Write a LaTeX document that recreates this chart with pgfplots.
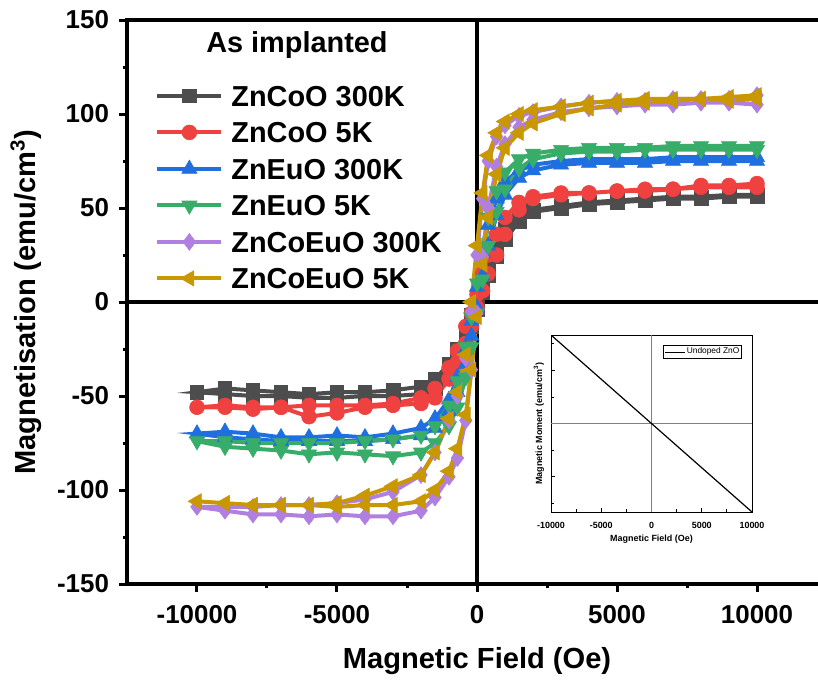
\documentclass[border=0pt]{standalone}
\usepackage{fontspec}
\setmainfont{Liberation Sans}
\usepackage{pgfplots}
\pgfplotsset{compat=1.18}
\definecolor{cgrey}{HTML}{4D4D4D}
\definecolor{cred}{HTML}{F04141}
\definecolor{cblue}{HTML}{1F6FE0}
\definecolor{cgreen}{HTML}{38AD69}
\definecolor{cpurple}{HTML}{B07FE0}
\definecolor{cgold}{HTML}{C99700}

\begin{document}
\begin{tikzpicture}
\begin{axis}[
  name=main,
  scale only axis, width=350bp, height=282bp,
  xmin=-12500, xmax=12500, ymin=-150, ymax=150,
  xtick={-10000,-5000,0,5000,10000}, minor x tick num=1,
  ytick={-150,-100,...,150}, minor y tick num=1,
  tick pos=left, tick align=outside,
  major tick length=4bp, minor tick length=2.2bp,
  every tick/.style={black, line width=1.5bp},
  axis line style={line width=1.8bp},
  scaled x ticks=false,
  /pgf/number format/assume math mode=true,
  /pgf/number format/1000 sep={},
  tick label style={font=\fontsize{13}{15}\selectfont\bfseries},
  xticklabel style={yshift=-3bp},
  yticklabel style={xshift=-1.5bp},
  xlabel={Magnetic Field (Oe)},
  ylabel={Magnetisation (emu/cm\textsuperscript{3})},
  label style={font=\fontsize{14.6}{17}\selectfont\bfseries},
  xlabel style={at={(axis description cs:0.5,0)}, anchor=base, yshift=-42bp},
  ylabel style={at={(axis description cs:-0.1314,0.5)}, anchor=base},
  legend style={draw=none, fill=none, inner sep=0pt,
    at={(axis description cs:0,1)}, anchor=north west,
    xshift=14bp, yshift=-32.5bp,
    font=\fontsize{14.5}{17}\selectfont\bfseries, row sep=7.75bp,
    nodes={inner sep=0pt, text height=10.5bp, text depth=0pt}},
  legend cell align=left,
  legend image code/.code={
    \draw[mark repeat=2,mark phase=2] plot coordinates {(0bp,0bp)(16bp,0bp)(32bp,0bp)};
    \path (36bp,0bp);},
  every axis plot/.append style={line width=2bp},
]
\draw[line width=1.8bp] (axis cs:0,-150) -- (axis cs:0,150);
\draw[line width=1.8bp] (axis cs:-12500,0) -- (axis cs:12500,0);

% ZnCoO 300K
\addplot[color=cgrey, mark=square*, mark size=3.4bp, mark options={solid, line width=0.3bp}]
  coordinates {(10000,57)(9000,57)(8000,56)(7000,56)(6000,55)(5000,54)(4000,53)(3000,51)
  (2000,49)(1500,46)(1000,39)(700,31)(400,21)(200,12)(0,3)(-200,-7)(-400,-15)(-700,-25)
  (-1000,-33)(-1500,-41)(-2000,-45)(-3000,-47)(-4000,-48)(-5000,-48)(-6000,-49)(-7000,-48)
  (-8000,-47)(-9000,-46)(-10000,-48)
  (-9000,-49)(-8000,-50)(-7000,-50)(-6000,-51)(-5000,-51)(-4000,-50)(-3000,-50)(-2000,-49)
  (-1500,-46)(-1000,-39)(-700,-31)(-400,-22)(-200,-13)(0,-4)(200,5)(400,14)(700,24)
  (1000,33)(1500,43)(2000,48)(3000,50)(4000,52)(5000,53)(6000,54)(7000,55)(8000,55)
  (9000,56)(10000,56)};
% ZnCoO 5K
\addplot[color=cred, mark=*, mark size=3.7bp, mark options={solid, line width=0.3bp}]
  coordinates {(10000,63)(9000,62)(8000,62)(7000,60)(6000,60)(5000,59)(4000,58)(3000,58)
  (2000,56)(1500,53)(1000,45)(700,36)(400,25)(200,15)(0,4)(-200,-6)(-400,-13)(-700,-26)
  (-1000,-35)(-1500,-46)(-2000,-51)(-3000,-54)(-4000,-55)(-5000,-55)(-6000,-55)(-7000,-56)
  (-8000,-56)(-9000,-55)(-10000,-56)
  (-9000,-56)(-8000,-57)(-7000,-56)(-6000,-61)(-5000,-59)(-4000,-56)(-3000,-55)(-2000,-54)
  (-1500,-51)(-1000,-41)(-700,-32)(-400,-22)(-200,-13)(0,-3)(200,6)(400,15)(700,25)
  (1000,36)(1500,49)(2000,55)(3000,57)(4000,58)(5000,59)(6000,59)(7000,60)(8000,61)
  (9000,61)(10000,61)};
% ZnEuO 300K
\addplot[color=cblue, mark=triangle*, mark size=4.4bp, mark options={solid, line width=0.3bp}]
  coordinates {(10000,77)(9000,77)(8000,77)(7000,77)(6000,76)(5000,76)(4000,76)(3000,75)
  (2000,73)(1500,70)(1000,64)(700,55)(400,41)(200,26)(0,8)(-200,-10)(-400,-25)(-700,-40)
  (-1000,-52)(-1500,-62)(-2000,-67)(-3000,-70)(-4000,-72)(-5000,-71)(-6000,-72)(-7000,-72)
  (-8000,-70)(-9000,-69)(-10000,-70)
  (-9000,-72)(-8000,-73)(-7000,-74)(-6000,-74)(-5000,-74)(-4000,-74)(-3000,-73)(-2000,-71)
  (-1500,-67)(-1000,-58)(-700,-48)(-400,-33)(-200,-18)(0,-3)(200,14)(400,30)(700,46)
  (1000,57)(1500,66)(2000,70)(3000,73)(4000,74)(5000,74)(6000,74)(7000,75)(8000,75)
  (9000,75)(10000,75)};
% ZnEuO 5K
\addplot[color=cgreen, mark=triangle*, mark size=4.4bp, mark options={solid, rotate=180, line width=0.3bp}]
  coordinates {(10000,83)(9000,83)(8000,83)(7000,83)(6000,82)(5000,82)(4000,82)(3000,81)
  (2000,79)(1500,76)(1000,69)(700,59)(400,45)(200,29)(0,10)(-200,-8)(-400,-24)(-700,-42)
  (-1000,-55)(-1500,-66)(-2000,-71)(-3000,-73)(-4000,-74)(-5000,-75)(-6000,-75)(-7000,-75)
  (-8000,-75)(-9000,-74)(-10000,-74)
  (-9000,-77)(-8000,-78)(-7000,-79)(-6000,-81)(-5000,-80)(-4000,-81)(-3000,-82)(-2000,-80)
  (-1500,-75)(-1000,-66)(-700,-56)(-400,-40)(-200,-24)(0,-6)(200,12)(400,30)(700,48)
  (1000,60)(1500,71)(2000,76)(3000,79)(4000,80)(5000,80)(6000,81)(7000,81)(8000,81)
  (9000,81)(10000,81)};
% ZnCoEuO 300K
\addplot[color=cpurple, mark=diamond*, mark size=4.2bp, mark options={solid, line width=0.3bp}]
  coordinates {(10000,110)(9000,108)(8000,108)(7000,108)(6000,107)(5000,107)(4000,106)(3000,104)
  (2000,101)(1500,99)(1000,94)(700,88)(400,75)(200,55)(0,25)(-200,-5)(-400,-30)(-700,-50)
  (-1000,-63)(-1500,-80)(-2000,-92)(-3000,-101)(-4000,-105)(-5000,-107)(-6000,-108)(-7000,-108)
  (-8000,-109)(-9000,-109)(-10000,-109)
  (-9000,-111)(-8000,-113)(-7000,-113)(-6000,-114)(-5000,-113)(-4000,-114)(-3000,-114)(-2000,-111)
  (-1500,-104)(-1000,-93)(-700,-83)(-400,-63)(-200,-36)(0,-6)(200,24)(400,50)(700,72)
  (1000,84)(1500,93)(2000,97)(3000,101)(4000,103)(5000,104)(6000,105)(7000,105)(8000,106)
  (9000,106)(10000,105)};
% ZnCoEuO 5K
\addplot[color=cgold, mark=triangle*, mark size=4.4bp, mark options={solid, rotate=90, line width=0.3bp}]
  coordinates {(10000,110)(9000,109)(8000,108)(7000,108)(6000,108)(5000,107)(4000,106)(3000,104)
  (2000,102)(1500,100)(1000,96)(700,90)(400,78)(200,58)(0,30)(-200,0)(-400,-28)(-700,-48)
  (-1000,-62)(-1500,-80)(-2000,-92)(-3000,-98)(-4000,-103)(-5000,-107)(-6000,-108)(-7000,-108)
  (-8000,-108)(-9000,-107)(-10000,-106)
  (-9000,-107)(-8000,-108)(-7000,-108)(-6000,-108)(-5000,-109)(-4000,-108)(-3000,-108)(-2000,-106)
  (-1500,-100)(-1000,-90)(-700,-78)(-400,-60)(-200,-36)(0,-8)(200,20)(400,45)(700,68)
  (1000,82)(1500,90)(2000,95)(3000,100)(4000,103)(5000,105)(6000,106)(7000,107)(8000,108)
  (9000,107)(10000,108)};
\legend{ZnCoO 300K, ZnCoO 5K, ZnEuO 300K, ZnEuO 5K, ZnCoEuO 300K, ZnCoEuO 5K}
\node[font=\fontsize{14.5}{17}\selectfont\bfseries] at (axis cs:-6430,136.7) {As implanted};
\end{axis}

% inset: undoped ZnO
\begin{axis}[
  at={(212bp,36bp)}, anchor=south west,
  scale only axis, width=100.5bp, height=88.5bp,
  xmin=-10000, xmax=10000, ymin=-1, ymax=1,
  xtick={-10000,-5000,0,5000,10000}, minor xtick={-7500,-2500,2500,7500},
  ytick={-0.6,0,0.6}, minor ytick={-0.9,-0.3,0.3,0.9}, yticklabels={},
  tick pos=left, tick align=inside,
  major tick length=2bp, minor tick length=1.3bp,
  every tick/.style={black, line width=0.4bp},
  axis line style={line width=0.5bp},
  axis background/.style={fill=white},
  scaled x ticks=false,
  /pgf/number format/assume math mode=true,
  /pgf/number format/1000 sep={},
  tick label style={font=\fontsize{4.5}{5}\selectfont\bfseries},
  xticklabel style={yshift=-1.5bp},
  xlabel={Magnetic Field (Oe)},
  ylabel={Magnetic Moment (emu/cm\textsuperscript{3})},
  label style={font=\fontsize{4.5}{5}\selectfont\bfseries},
  xlabel style={at={(axis description cs:0.5,0)}, anchor=center, yshift=-13.5bp},
  ylabel style={at={(axis description cs:-0.06,0.5)}, anchor=center},
  legend style={draw=black, line width=0.4bp, fill=white, inner sep=0.6bp,
    at={(axis description cs:1,1)}, anchor=north east, xshift=-5bp, yshift=-5bp,
    font=\fontsize{4.2}{5}\selectfont, nodes={inner sep=0.5bp}},
  legend image code/.code={\draw[line width=0.6bp] (0bp,0bp) -- (10bp,0bp);},
]
\draw[gray, line width=0.4bp] (axis cs:0,-1) -- (axis cs:0,1);
\draw[gray, line width=0.4bp] (axis cs:-10000,0) -- (axis cs:10000,0);
\addplot[black, line width=0.6bp] coordinates {(-10000,1)(10000,-1)};
\legend{Undoped ZnO}
\end{axis}

\pgfresetboundingbox
\path[use as bounding box] ([xshift=-63.5bp,yshift=-48bp]main.south west)
  rectangle ([xshift=-4.5bp,yshift=10bp]main.north east);
\end{tikzpicture}
\end{document}
